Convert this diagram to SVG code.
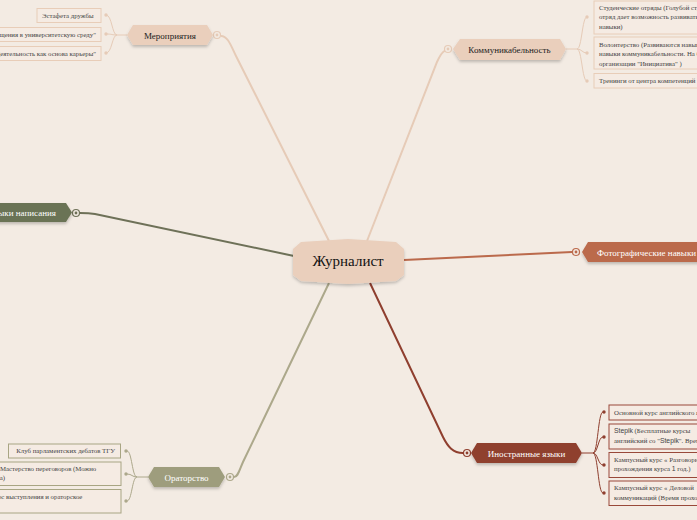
<svg xmlns="http://www.w3.org/2000/svg" width="697" height="520" viewBox="0 0 697 520">
<defs>
<filter id="sh" x="-20%" y="-30%" width="140%" height="170%">
<feDropShadow dx="0" dy="2" stdDeviation="1.5" flood-color="#000" flood-opacity="0.22"/>
</filter>
<style>
.t{font-family:"Liberation Serif","Times New Roman",serif}
.ct{font-size:15px;fill:#111;text-anchor:middle}
.bt{font-size:9px;text-anchor:middle}
.st{font-size:6.8px;fill:#444}
.box{stroke-width:1}
.peach{fill:#f5ebe3;stroke:#e8cdb8}
.red{fill:#f5ebe3;stroke:#99493a}
.olive{fill:#f5ebe3;stroke:#a8a583}
.ln{fill:none}
</style>
</defs>
<rect width="697" height="520" fill="#f3ebe3"/>

<g id="connectors">
<path class="ln" d="M329,241 L236,56 C231,46 228,36 221,36" stroke="#e6cbb7" stroke-width="2"/>
<path class="ln" d="M367,241 L437,62 C441,53 444,49 452,49" stroke="#e6cbb7" stroke-width="2"/>
<path class="ln" d="M294,256 L95,214 C89,213 86,213 80,213" stroke="#6e7158" stroke-width="2"/>
<path class="ln" d="M404,260 L572,252" stroke="#bb6a4c" stroke-width="2"/>
<path class="ln" d="M370,283 L443,437 C448,447 453,453 463,453" stroke="#8f3f2f" stroke-width="2"/>
<path class="ln" d="M329,283 L243,462 C239,471 238,477 234,477" stroke="#aca88b" stroke-width="2"/>

<g stroke="#e6cbb7" stroke-width="1" fill="none">
<path d="M127,35 L117,35 C112,35 112,15 106,15"/>
<path d="M117,35 C112,35 112,34 106,34"/>
<path d="M117,35 C112,35 112,53 106,53"/>
<path d="M566,49 L577,49 C582,49 582,17 587,17"/>
<path d="M577,49 C582,49 582,53 587,53"/>
<path d="M577,49 C582,49 582,81 587,81"/>
</g>
<g fill="#e6cbb7">
<circle cx="106" cy="15" r="1.7"/><circle cx="106" cy="34" r="1.7"/><circle cx="106" cy="53" r="1.7"/>
<circle cx="587" cy="17" r="1.7"/><circle cx="587" cy="53" r="1.7"/><circle cx="587" cy="81" r="1.7"/>
</g>
<g stroke="#8f3f2f" stroke-width="1" fill="none">
<path d="M582,453 L593,453 C598,453 598,412 603,412"/>
<path d="M593,453 C598,453 598,437 603,437"/>
<path d="M593,453 C598,453 598,465 603,465"/>
<path d="M593,453 C598,453 598,493 603,493"/>
</g>
<g fill="#8f3f2f">
<circle cx="604" cy="412" r="1.7"/><circle cx="604" cy="437" r="1.7"/><circle cx="604" cy="465" r="1.7"/><circle cx="604" cy="493" r="1.7"/>
</g>
<g stroke="#aca88b" stroke-width="1" fill="none">
<path d="M148,477 L137,477 C132,477 132,451 127,451"/>
<path d="M137,477 C132,477 132,474 127,474"/>
<path d="M137,477 C132,477 132,501 127,501"/>
</g>
<g fill="#aca88b">
<circle cx="126" cy="451" r="1.7"/><circle cx="126" cy="474" r="1.7"/><circle cx="126" cy="501" r="1.7"/>
</g>
<g fill="#f3ebe3" stroke-width="1.2">
<circle cx="217" cy="35" r="3.5" stroke="#e6cbb7"/>
<circle cx="448" cy="49" r="3.5" stroke="#e6cbb7"/>
<circle cx="76" cy="213" r="3.5" stroke="#6e7158"/>
<circle cx="576" cy="252" r="3.5" stroke="#bb6a4c"/>
<circle cx="467" cy="453" r="3.5" stroke="#8f3f2f"/>
<circle cx="230" cy="477" r="3.5" stroke="#aca88b"/>
</g>
<g>
<circle cx="217" cy="35" r="1.4" fill="#e6cbb7"/>
<circle cx="448" cy="49" r="1.4" fill="#e6cbb7"/>
<circle cx="76" cy="213" r="1.4" fill="#6e7158"/>
<circle cx="576" cy="252" r="1.4" fill="#bb6a4c"/>
<circle cx="467" cy="453" r="1.4" fill="#8f3f2f"/>
<circle cx="230" cy="477" r="1.4" fill="#aca88b"/>
</g>
</g>

<g id="center">
<polygon points="293,249 301,242 348,239 396,242 404,249 404,275 396,281 348,284 301,281 293,275" fill="#eacfbc" filter="url(#sh)"/>
<text class="t ct" x="348" y="266">Журналист</text>
</g>

<g id="meropriyatiya">
<polygon points="127,35 133,25 207,25 213,35 207,45 133,45" fill="#eacfbc" filter="url(#sh)"/>
<text class="t bt" x="170" y="38.5" fill="#222">Мероприятия</text>
</g>
<g id="m1"><rect class="box peach" x="37" y="8.5" width="64" height="14"/><text class="t st" x="42" y="17.8">Эстафета дружбы</text></g>
<g id="m2"><rect class="box peach" x="-5" y="27.5" width="106" height="14"/><text class="t st" x="96" y="36.8" text-anchor="end">"Посвящения в университетскую среду"</text></g>
<g id="m3"><rect class="box peach" x="-5" y="46.5" width="106" height="14"/><text class="t st" x="96" y="55.8" text-anchor="end">"Деятельность как основа карьеры"</text></g>

<g id="kommunikabelnost">
<polygon points="453,49 460,39 560,39 566,49 560,60 460,60" fill="#eacfbc" filter="url(#sh)"/>
<text class="t bt" x="509.5" y="52.5" fill="#222">Коммуникабельность</text>
</g>
<g id="k1"><rect class="box peach" x="594" y="1" width="110" height="33"/><text class="t st" x="599" y="9.5">Студенческие отряды (Голубой студенческий<tspan x="599" dy="9.5">отряд дает возможность развивать</tspan><tspan x="599" dy="9.5">навыки)</tspan></text></g>
<g id="k2"><rect class="box peach" x="594" y="37" width="110" height="32"/><text class="t st" x="599" y="46.5">Волонтерство (Развиваются навыки<tspan x="599" dy="9.5">навыки коммуникабельности. На базе</tspan><tspan x="599" dy="9.5">организации "Инициатива" )</tspan></text></g>
<g id="k3"><rect class="box peach" x="594" y="73.5" width="110" height="14.5"/><text class="t st" x="599" y="83">Тренинги от центра компетенций</text></g>

<g id="navyki">
<polygon points="-10,203 66,203 72,212.5 66,222 -10,222" fill="#6b7355" filter="url(#sh)"/>
<text class="t" x="56" y="216" font-size="9" fill="#fff" text-anchor="end">Навыки написания</text>
</g>

<g id="foto">
<polygon points="582,252 588,242 705,242 705,262 588,262" fill="#bb6a4c" filter="url(#sh)"/>
<text class="t" x="597" y="255.5" font-size="9" fill="#fff">Фотографические навыки</text>
</g>

<g id="yazyki">
<polygon points="471,453 477,443 576,443 582,453 576,463 477,463" fill="#8f3f2f" filter="url(#sh)"/>
<text class="t bt" x="526.5" y="456.5" fill="#fff">Иностранные языки</text>
</g>
<g id="y1"><rect class="box red" x="609" y="405" width="100" height="15"/><text class="t st" x="614" y="414.5">Основной курс английского языка</text></g>
<g id="y2"><rect class="box red" x="609" y="424" width="100" height="25"/><text class="t st" x="614" y="433"><tspan font-family="Liberation Sans,sans-serif">Stepik</tspan> (Бесплатные курсы<tspan x="614" dy="9.5">английский со "</tspan><tspan font-family="Liberation Sans,sans-serif">Stepik</tspan>". Время</text></g>
<g id="y3"><rect class="box red" x="609" y="452.5" width="100" height="25"/><text class="t st" x="614" y="461.5">Кампусный курс « Разговорный<tspan x="614" dy="9.5">прохождения курса </tspan><tspan font-family="Liberation Sans,sans-serif">1</tspan> год.)</text></g>
<g id="y4"><rect class="box red" x="609" y="481" width="100" height="24.5"/><text class="t st" x="614" y="490">Кампусный курс « Деловой<tspan x="614" dy="9.5">коммуникаций (Время прохождения</tspan></text></g>

<g id="oratorstvo">
<polygon points="148,477 154,467 219,467 225,477 219,487 154,487" fill="#9e9d7d" filter="url(#sh)"/>
<text class="t bt" x="186.5" y="480.5" fill="#fff">Ораторство</text>
</g>
<g id="o1"><rect class="box olive" x="8.5" y="444" width="112" height="14"/><text class="t st" x="115" y="453.3" text-anchor="end">Клуб парламентских дебатов ТГУ</text></g>
<g id="o2"><rect class="box olive" x="-5" y="462" width="126" height="23.5"/><text class="t st" x="0" y="470.5">Мастерство переговоров (Можно<tspan x="-4" dy="9.5">на)</tspan></text></g>
<g id="o3"><rect class="box olive" x="-5" y="489.5" width="126" height="23.5"/><text class="t st" x="-9.5" y="498.5">Курс выступления и ораторское</text></g>
</svg>
